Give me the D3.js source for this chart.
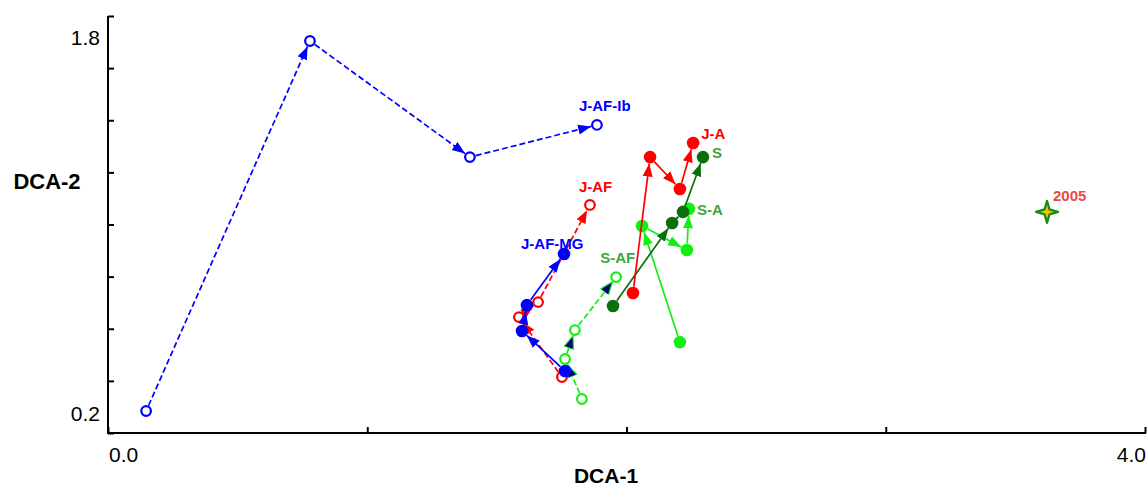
<!DOCTYPE html>
<html>
<head>
<meta charset="utf-8">
<script src="https://cdn.jsdelivr.net/npm/d3@7"></script>
<style>
  body { margin: 0; background: #fff; }
  text { font-family: "Liberation Sans", Arial, sans-serif; }
</style>
</head>
<body>
<svg id="chart" width="1147" height="488"></svg>
<script>
// DCA-1 / DCA-2 scores
const jafIbX = [0.147, 0.779, 1.396, 1.886];
const jafIbY = [0.200, 1.800, 1.298, 1.437];
const jafMgX = [1.763, 1.597, 1.616, 1.759];
const jafMgY = [0.373, 0.546, 0.658, 0.879];
const jafX = [1.751, 1.585, 1.659, 1.859];
const jafY = [0.347, 0.606, 0.671, 1.091];
const jaX = [2.025, 2.091, 2.206, 2.257];
const jaY = [0.710, 1.298, 1.160, 1.359];
const sX = [1.948, 2.176, 2.218, 2.295];
const sY = [0.654, 1.013, 1.061, 1.298];
const saX = [2.206, 2.060, 2.233, 2.241];
const saY = [0.498, 1.000, 0.896, 1.074];
const safX = [1.828, 1.763, 1.801, 1.960];
const safY = [0.252, 0.425, 0.550, 0.779];
const refX = [3.622];
const refY = [1.061];
const refLabel = '2005';

const xTickLabels = ['0.0', '4.0'];
const yTickLabels = ['0.2', '1.8'];

const svg = d3.select('#chart');

const x = d3.scaleLinear().domain([0, 4]).range([108, 1145]);
const y = d3.scaleLinear().domain([0.2, 1.8]).range([411, 41]);

// y axis runs a bit past the data on both ends, split in 8 equal parts
const yLo = y.invert(433), yHi = y.invert(16);
const yTickVals = d3.range(9).map(i => yLo + i * (yHi - yLo) / 8);

const yAxis = d3.axisLeft(y).tickValues(yTickVals).tickSizeInner(-6).tickSizeOuter(0).tickFormat('');
const yAx = svg.append('g').attr('transform', 'translate(108,0)').call(yAxis);
yAx.select('.domain').attr('d', 'M0,16V433').attr('stroke-width', 2);
yAx.selectAll('.tick line').attr('stroke-width', 2);

const xAxis = d3.axisBottom(x).tickValues([0, 1, 2, 3, 4]).tickSizeInner(-6).tickSizeOuter(0).tickFormat('');
const xAx = svg.append('g').attr('transform', 'translate(0,433)').call(xAxis);
xAx.select('.domain').attr('d', 'M107,0H1146').attr('stroke-width', 2);
xAx.selectAll('.tick line').attr('stroke-width', 2);

svg.append('text').attr('x', 100).attr('y', y(1.8) + 4).attr('text-anchor', 'end')
  .attr('font-size', 21).text(yTickLabels[1]);
svg.append('text').attr('x', 100).attr('y', y(0.2) + 10).attr('text-anchor', 'end')
  .attr('font-size', 21).text(yTickLabels[0]);
svg.append('text').attr('x', x(0) + 1).attr('y', 462).attr('text-anchor', 'start')
  .attr('font-size', 21).text(xTickLabels[0]);
svg.append('text').attr('x', x(4) + 1).attr('y', 462).attr('text-anchor', 'end')
  .attr('font-size', 21).text(xTickLabels[1]);

svg.append('text').attr('x', 47).attr('y', 189).attr('text-anchor', 'middle')
  .attr('font-size', 22).attr('font-weight', 'bold').text('DCA-2');
svg.append('text').attr('x', 606).attr('y', 483).attr('text-anchor', 'middle')
  .attr('font-size', 21).attr('font-weight', 'bold').text('DCA-1');

const blue = '#0000ff', red = '#ff0000', dark = '#0b700b', lime = '#14ee14', labelGreen = '#3aa83a';

const series = [
  { name: 'J-AF-Ib', xs: jafIbX, ys: jafIbY, color: blue, open: true, dash: true, label: blue, dx: -18, dy: -14 },
  { name: 'S-AF', xs: safX, ys: safY, color: lime, open: true, dash: true, label: labelGreen, dx: -16, dy: -14, head: '#000080' },
  { name: 'S-A', xs: saX, ys: saY, color: lime, open: false, dash: false, label: labelGreen, dx: 8, dy: 6 },
  { name: 'S', xs: sX, ys: sY, color: dark, open: false, dash: false, label: labelGreen, dx: 9, dy: 1 },
  { name: 'J-A', xs: jaX, ys: jaY, color: red, open: false, dash: false, label: red, dx: 8, dy: -4 },
  { name: 'J-AF', xs: jafX, ys: jafY, color: red, open: true, dash: true, label: red, dx: -11, dy: -13 },
  { name: 'J-AF-MG', xs: jafMgX, ys: jafMgY, color: blue, open: false, dash: false, label: blue, dx: -43, dy: -5 }
];

const defs = svg.append('defs');
series.forEach((s, i) => {
  defs.append('marker')
    .attr('id', 'arr' + i)
    .attr('viewBox', '0 -6 14 12')
    .attr('refX', 13).attr('refY', 0)
    .attr('markerUnits', 'userSpaceOnUse')
    .attr('markerWidth', 14).attr('markerHeight', 12)
    .attr('orient', 'auto')
    .append('path')
    .attr('d', 'M0,-5L13,0L0,5Z')
    .attr('fill', s.head || s.color)
    .attr('stroke', s.head ? s.color : 'none')
    .attr('stroke-width', 1.2);
});

series.forEach((s, i) => {
  const pts = s.xs.map((v, k) => [x(v), y(s.ys[k])]);
  const r = s.open ? 6 : 6.5;
  const g = svg.append('g');
  d3.pairs(pts).forEach(([a, b]) => {
    const len = Math.hypot(b[0] - a[0], b[1] - a[1]);
    const ux = (b[0] - a[0]) / len, uy = (b[1] - a[1]) / len;
    g.append('line')
      .attr('x1', a[0] + ux * r).attr('y1', a[1] + uy * r)
      .attr('x2', b[0] - ux * r).attr('y2', b[1] - uy * r)
      .attr('stroke', s.color)
      .attr('stroke-width', 1.7)
      .attr('stroke-dasharray', s.dash ? '6,3' : null)
      .attr('marker-end', `url(#arr${i})`);
  });
  g.selectAll('circle').data(pts).join('circle')
    .attr('cx', d => d[0]).attr('cy', d => d[1])
    .attr('r', s.open ? 4.8 : 6.3)
    .attr('fill', s.open ? '#fff' : s.color)
    .attr('stroke', s.color)
    .attr('stroke-width', s.open ? 2.2 : 0);
  const last = pts[pts.length - 1];
  svg.append('text')
    .attr('x', last[0] + s.dx).attr('y', last[1] + s.dy)
    .attr('fill', s.label).attr('font-size', 15).attr('font-weight', 'bold')
    .text(s.name);
});

// reference year star
const starPts = d3.range(8).map(k => {
  const a = k * Math.PI / 4;
  const rr = k % 2 === 0 ? 11 : 3.5;
  return [Math.sin(a) * rr, -Math.cos(a) * rr];
});
svg.append('path')
  .attr('transform', `translate(${x(refX[0])},${y(refY[0])})`)
  .attr('d', d3.line().curve(d3.curveLinearClosed)(starPts))
  .attr('fill', '#f2c200')
  .attr('stroke', '#1a8a1a')
  .attr('stroke-width', 2.2)
  .attr('stroke-linejoin', 'round');
svg.append('text')
  .attr('x', x(refX[0]) + 6).attr('y', y(refY[0]) - 11)
  .attr('fill', '#e84a4a').attr('font-size', 15).attr('font-weight', 'bold')
  .text(refLabel);
</script>
</body>
</html>
